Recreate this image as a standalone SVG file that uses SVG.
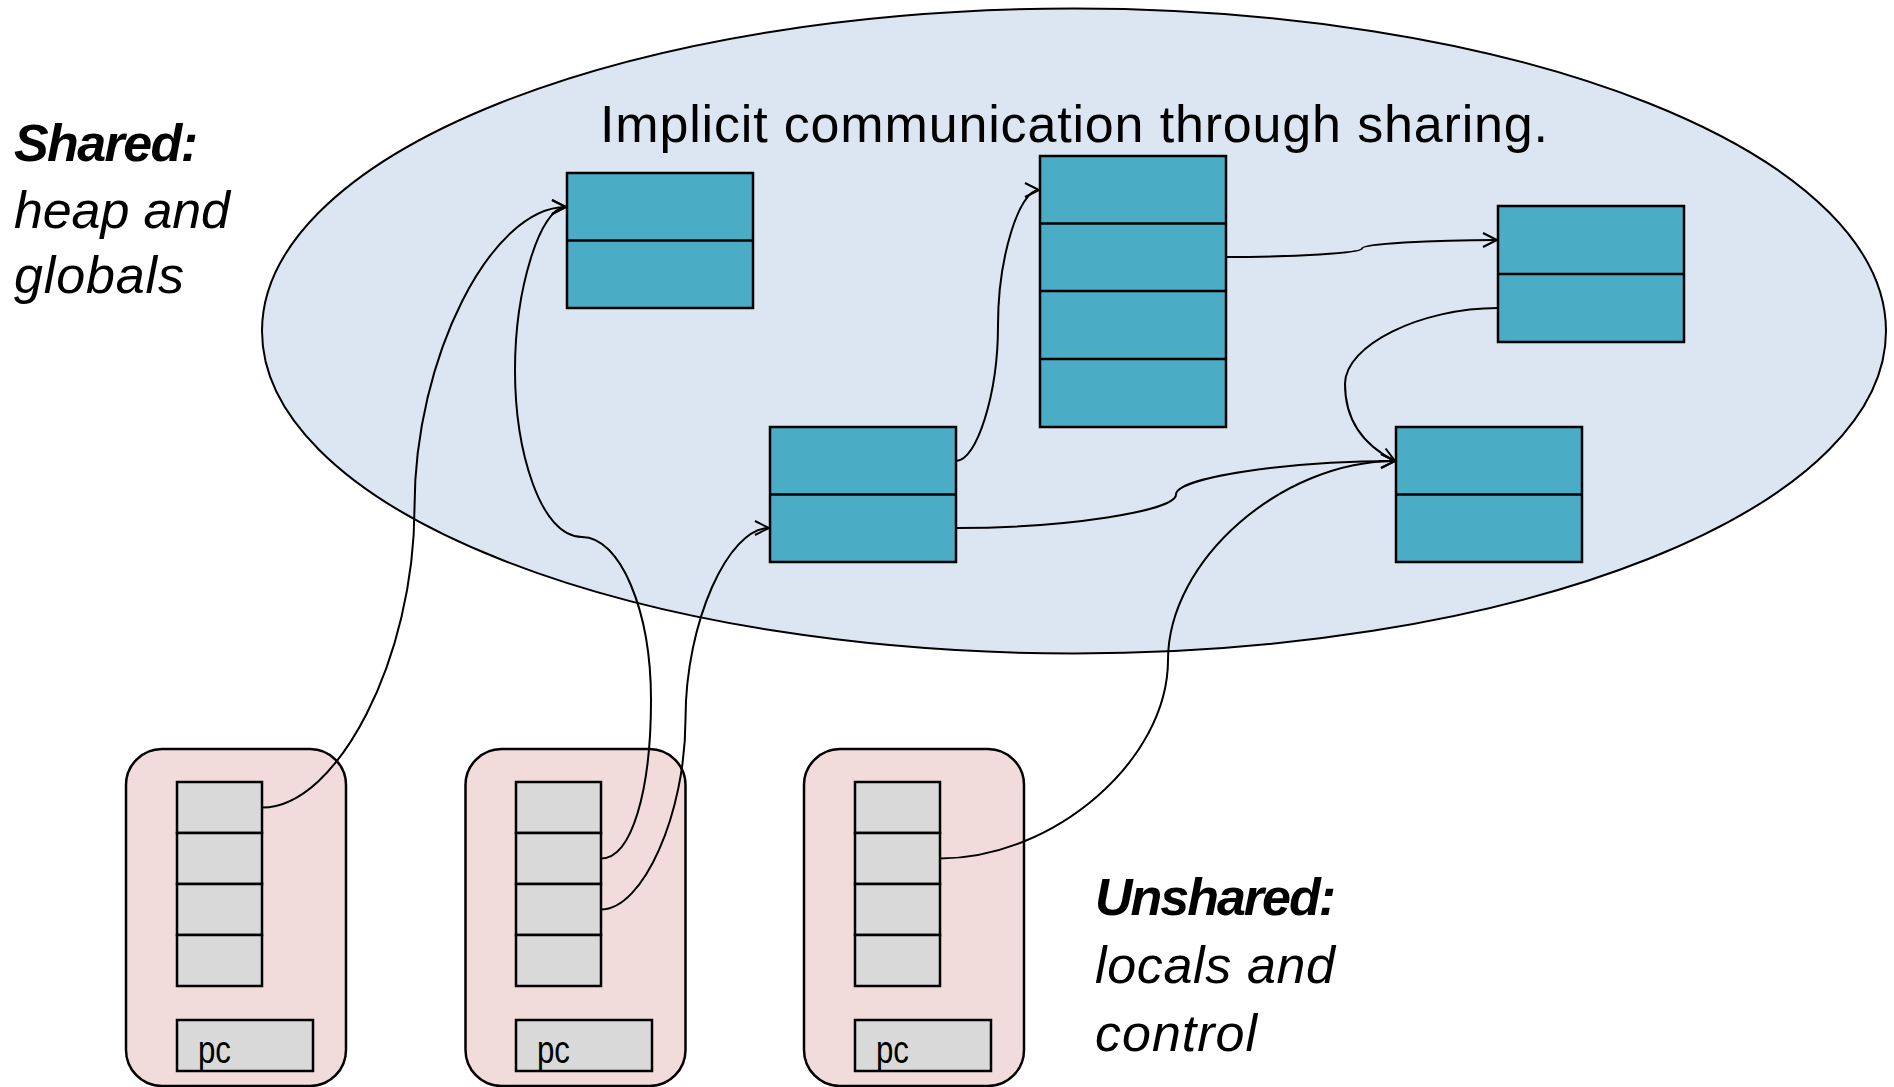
<svg xmlns="http://www.w3.org/2000/svg" width="1894" height="1087" viewBox="0 0 1894 1087">
<style>
.heap{fill:#4BACC6;stroke:#000;stroke-width:2.5}
.div{stroke:#000;stroke-width:2.5}
.thr{fill:#F2DCDB;stroke:#000;stroke-width:2.5}
.cell{fill:#D9D9D9;stroke:#000;stroke-width:2.5}
.con{fill:none;stroke:#000;stroke-width:2}
.lbl{font-family:"Liberation Sans",Arial,sans-serif;font-size:52px;fill:#000}
.pc{font-family:"Liberation Sans",Arial,sans-serif;font-size:38px;fill:#000}
</style>
<defs>
<marker id="arr" markerWidth="20" markerHeight="20" refX="16" refY="8" orient="auto" markerUnits="userSpaceOnUse">
<path d="M2,1 L16,8 L2,15" fill="none" stroke="#000" stroke-width="2"/>
</marker>
</defs>
<rect width="1894" height="1087" fill="#fff"/>
<g id="shared-region">
<ellipse cx="1074" cy="331" rx="812" ry="322.5" fill="#DCE6F2" stroke="#000" stroke-width="2"/>
<text class="lbl" x="600" y="142" font-size="53" textLength="948">Implicit communication through sharing.</text>
</g>
<g id="label-shared">
<text class="lbl" x="14" y="161" font-size="49" font-weight="bold" font-style="italic" textLength="184">Shared:</text>
<text class="lbl" x="14" y="228" font-style="italic" textLength="216">heap and</text>
<text class="lbl" x="14" y="293" font-style="italic" textLength="170">globals</text>
</g>
<g id="label-unshared">
<text class="lbl" x="1095" y="915" font-size="49" font-weight="bold" font-style="italic" textLength="241">Unshared:</text>
<text class="lbl" x="1095" y="983" font-style="italic" textLength="240">locals and</text>
<text class="lbl" x="1095" y="1051" font-style="italic" textLength="162">control</text>
</g>
<g id="obj-a">
<rect class="heap" x="567" y="173" width="186" height="135"/>
<line class="div" x1="567" y1="240.5" x2="753" y2="240.5"/>
</g>
<g id="obj-b">
<rect class="heap" x="770" y="427" width="186" height="135"/>
<line class="div" x1="770" y1="494.5" x2="956" y2="494.5"/>
</g>
<g id="obj-c">
<rect class="heap" x="1040" y="156" width="186" height="271"/>
<line class="div" x1="1040" y1="223.5" x2="1226" y2="223.5"/>
<line class="div" x1="1040" y1="291" x2="1226" y2="291"/>
<line class="div" x1="1040" y1="359" x2="1226" y2="359"/>
</g>
<g id="obj-d">
<rect class="heap" x="1498" y="206" width="186" height="136"/>
<line class="div" x1="1498" y1="274" x2="1684" y2="274"/>
</g>
<g id="obj-e">
<rect class="heap" x="1396" y="427" width="186" height="135"/>
<line class="div" x1="1396" y1="494.5" x2="1582" y2="494.5"/>
</g>
<g id="thread-1">
<rect class="thr" x="126" y="749" width="220" height="337" rx="36"/>
<rect class="cell" x="177" y="782" width="85" height="51"/>
<rect class="cell" x="177" y="833" width="85" height="51"/>
<rect class="cell" x="177" y="884" width="85" height="51"/>
<rect class="cell" x="177" y="935" width="85" height="51"/>
<rect class="cell" x="177" y="1020" width="136" height="51"/>
<text class="pc" x="198" y="1063" textLength="33" lengthAdjust="spacingAndGlyphs">pc</text>
</g>
<g id="thread-2">
<rect class="thr" x="465.5" y="749" width="220" height="337" rx="36"/>
<rect class="cell" x="516" y="782" width="85" height="51"/>
<rect class="cell" x="516" y="833" width="85" height="51"/>
<rect class="cell" x="516" y="884" width="85" height="51"/>
<rect class="cell" x="516" y="935" width="85" height="51"/>
<rect class="cell" x="516" y="1020" width="136" height="51"/>
<text class="pc" x="537" y="1063" textLength="33" lengthAdjust="spacingAndGlyphs">pc</text>
</g>
<g id="thread-3">
<rect class="thr" x="804" y="749" width="220" height="337" rx="36"/>
<rect class="cell" x="855" y="782" width="85" height="51"/>
<rect class="cell" x="855" y="833" width="85" height="51"/>
<rect class="cell" x="855" y="884" width="85" height="51"/>
<rect class="cell" x="855" y="935" width="85" height="51"/>
<rect class="cell" x="855" y="1020" width="136" height="51"/>
<text class="pc" x="876" y="1063" textLength="33" lengthAdjust="spacingAndGlyphs">pc</text>
</g>
<g id="connectors">
<path class="con" marker-end="url(#arr)" d="M262,807.5 C338,807.5 414.5,657 414.5,507.5 C414.5,358 491,207 566,207"/>
<path class="con" marker-end="url(#arr)" d="M601,858.5 C632,858.5 651,790 651,700 C651,610 620,537 582,537 C540,537 515,450 515,370 C515,290 540,207 566,207"/>
<path class="con" marker-end="url(#arr)" d="M601,909.5 C643,909.5 685.5,814 685.5,719 C685.5,623 728,528 769,528"/>
<path class="con" marker-end="url(#arr)" d="M940,858.5 C1054,858.5 1168,760 1168,660 C1168,560 1282,461 1395,461"/>
<path class="con" marker-end="url(#arr)" d="M956,461 C977,461 998,393 998,325.5 C998,258 1019,190 1039,190"/>
<path class="con" marker-end="url(#arr)" d="M956,528 C1066,528 1176,511 1176,494.5 C1176,478 1286,461 1395,461"/>
<path class="con" marker-end="url(#arr)" d="M1226,257 C1294,257 1362,253 1362,248.5 C1362,244 1430,240 1497,240"/>
<path class="con" marker-end="url(#arr)" d="M1498,308 C1421,308 1345,345 1345,384 C1345,422 1365,446 1395,461"/>
</g>
</svg>
